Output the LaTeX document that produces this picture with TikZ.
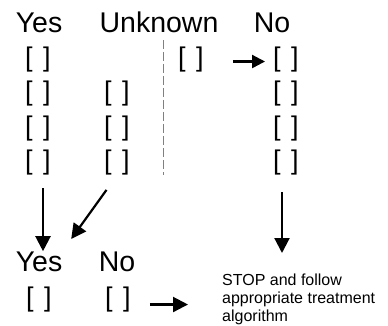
\documentclass[tikz,border=0pt]{standalone}
\usepackage{fontspec}
\setmainfont{Liberation Sans}
\usetikzlibrary{arrows.meta}
\newcommand{\tick}{[\hspace{0.39em}]}
\begin{document}
\begin{tikzpicture}[
    x=1pt, y=-1pt,
    head/.style={anchor=base, inner sep=0pt, font=\fontsize{28.5}{32}\selectfont},
    box/.style={anchor=base, inner sep=0pt, font=\fontsize{27}{30}\selectfont},
    arr/.style={-{Triangle[length=15pt,width=15pt]}, line width=2.2pt},
    sep/.style={gray, line width=1pt, dash pattern=on 9pt off 3pt}
]
    \useasboundingbox (0,0) rectangle (388,326);

    % Headers
    \node[head] (hyes) at (39,33) {Yes};
    \node[head] (hunk) at (159,33) {Unknown};
    \node[head] (hno) at (272,33) {No};

    % Separator
    \draw[sep] (163,40) -- (163,175);

    % Yes column
    \node[box] (y1) at (38,66.5) {\tick};
    \node[box] (y2) at (38,100.8) {\tick};
    \node[box] (y3) at (38,135.2) {\tick};
    \node[box] (y4) at (38,169.5) {\tick};

    % Unknown column
    \node[box] (u1) at (191,66.5) {\tick};
    \node[box] (u2) at (117,100.8) {\tick};
    \node[box] (u3) at (117,135.2) {\tick};
    \node[box] (u4) at (117,169.5) {\tick};

    % No column
    \node[box] (n1) at (286,66.5) {\tick};
    \node[box] (n2) at (286,100.8) {\tick};
    \node[box] (n3) at (286,135.2) {\tick};
    \node[box] (n4) at (286,169.5) {\tick};

    % Second question
    \node[head] (byes) at (39,271) {Yes};
    \node[head] (bno) at (117,271) {No};
    \node[box] (bbyes) at (39,306.5) {\tick};
    \node[box] (bbno) at (118,306.5) {\tick};

    \node[anchor=north west, inner sep=0pt, align=left, font=\fontsize{16}{18}\selectfont]
        (stop) at (222,274) {STOP and follow\\appropriate treatment\\algorithm};

    % Arrows
    \draw[arr, -{Triangle[length=13pt,width=13pt]}, shorten <=29pt, shorten >=8pt]
        ([yshift=-2]u1.east) -- ([yshift=-2]n1.west);
    \draw[arr, shorten <=13pt, shorten >=0pt] ([xshift=5]y4.south) -- ([xshift=4]byes.north);
    \draw[arr, shorten <=18pt, shorten >=15pt] (u4.south) -- (byes.north east);
    \draw[arr, shorten <=17pt, shorten >=21pt] ([xshift=-4]n4.south) -- ([xshift=-4]n4.south |- stop.north);
    \draw[arr, shorten <=19pt, shorten >=34pt] ([yshift=-5]bbno.east) -- ([yshift=-5]bbno.east -| stop.west);

\end{tikzpicture}
\end{document}
